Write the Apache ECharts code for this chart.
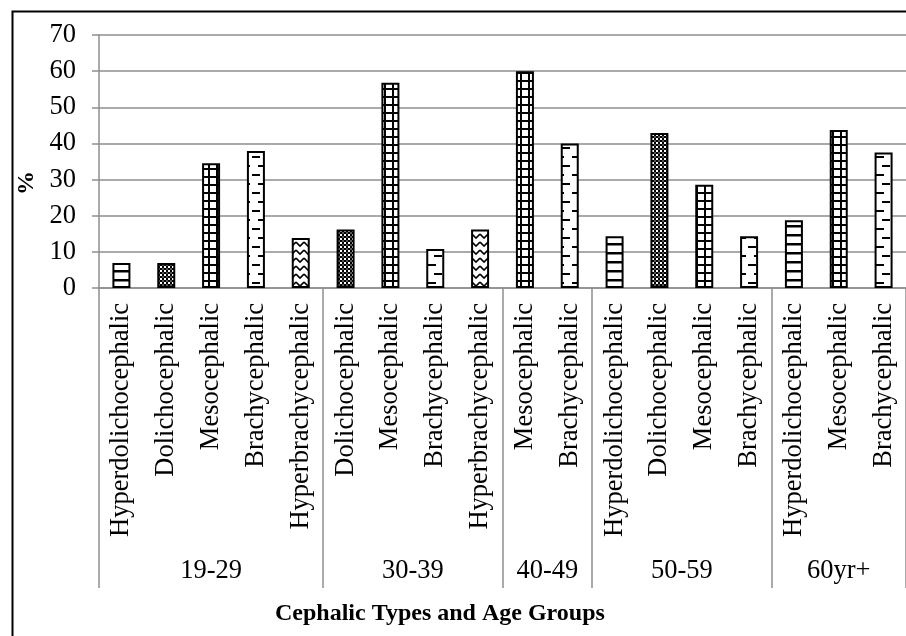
<!DOCTYPE html>
<html>
<head>
<meta charset="utf-8">
<script src="https://cdn.jsdelivr.net/npm/echarts@6/dist/echarts.min.js"></script>
<style>
html,body{margin:0;padding:0;background:#fff;}
#chart{width:906px;height:636px;}
</style>
</head>
<body>
<div id="chart"></div>
<script>
// ---- data ----
const cephalicTypes = [
  'Hyperdolichocephalic','Dolichocephalic','Mesocephalic','Brachycephalic','Hyperbrachycephalic',
  'Dolichocephalic','Mesocephalic','Brachycephalic','Hyperbrachycephalic',
  'Mesocephalic','Brachycephalic',
  'Hyperdolichocephalic','Dolichocephalic','Mesocephalic','Brachycephalic',
  'Hyperdolichocephalic','Mesocephalic','Brachycephalic'
];
const percentValues = [
  6.9, 6.9, 34.5, 37.9, 13.8,
  16.2, 56.8, 10.8, 16.2,
  60.0, 40.0,
  14.3, 42.9, 28.6, 14.3,
  18.75, 43.75, 37.5
];
const ageGroups = ['19-29','30-39','40-49','50-59','60yr+'];
const ageGroupSizes = [5, 4, 2, 4, 3];
const yTicks = [0,10,20,30,40,50,60,70];

// ---- patterns ----
function tile(w, h, draw) {
  const c = document.createElement('canvas');
  c.width = w; c.height = h;
  const g = c.getContext('2d');
  g.fillStyle = '#fff'; g.fillRect(0, 0, w, h);
  g.fillStyle = '#000'; g.strokeStyle = '#000';
  draw(g);
  return { image: c, repeat: 'repeat' };
}
const patterns = {
  Hyperdolichocephalic: tile(9, 9, g => { g.fillRect(0, 0, 9, 2.5); }),
  Dolichocephalic: tile(4, 4, g => { g.fillRect(0, 0, 2, 2); g.fillRect(2, 2, 2, 2); g.fillStyle='#555'; g.fillRect(2,0,2,2); g.fillStyle='#fff'; }),
  Mesocephalic: tile(8, 8, g => { g.fillRect(0, 0, 8, 2); g.fillRect(0, 0, 2, 8); }),
  Brachycephalic: tile(16, 18, g => { g.fillRect(2, 3, 8, 2); g.fillRect(12, 12, 8, 2); g.fillRect(-4, 12, 8, 2); }),
  Hyperbrachycephalic: tile(8, 8, g => {
    g.lineWidth = 1.6;
    g.beginPath(); g.moveTo(0, 2); g.lineTo(4, 6); g.lineTo(8, 2); g.stroke();
  })
};

// group helpers
const groupBounds = [0];
ageGroupSizes.forEach(s => groupBounds.push(groupBounds[groupBounds.length - 1] + s));
const groupCenters = ageGroupSizes.map((s, i) => groupBounds[i] + s / 2);

const font = '"Liberation Serif","Times New Roman",serif';
const gray = '#8e8e8e';

const chart = echarts.init(document.getElementById('chart'), null, { renderer: 'canvas' });
chart.setOption({
  animation: false,
  backgroundColor: '#fff',
  title: {
    text: 'Cephalic Types and Age Groups',
    left: 270, top: 597,
    textStyle: { fontFamily: font, fontWeight: 'bold', fontSize: 24, color: '#000' }
  },
  graphic: [
    { type: 'rect', left: 10, top: 9, shape: { width: 920, height: 660 },
      style: { fill: 'none', stroke: '#000', lineWidth: 2 }, silent: true },
    { type: 'text', x: 27, y: 183, rotation: Math.PI / 2,
      style: { text: '%', font: 'bold 24px ' + font, fill: '#000', align: 'center', verticalAlign: 'middle' } }
  ],
  grid: { left: 99, top: 35, width: 808, height: 253, containLabel: false },
  xAxis: [
    {
      type: 'category', data: cephalicTypes, position: 'bottom',
      axisLine: { show: true, lineStyle: { color: gray, width: 1.5 } },
      axisTick: { show: false },
      axisLabel: { rotate: 90, interval: 0, margin: 15, fontFamily: font, fontSize: 26.5, color: '#000' },
      splitLine: { show: false }
    },
    {
      type: 'value', position: 'bottom', min: 0, max: groupBounds[groupBounds.length - 1],
      axisLine: { show: false },
      axisTick: { show: true, length: 300, inside: false, customValues: groupBounds, lineStyle: { color: gray, width: 1.5 } },
      axisLabel: { show: true, customValues: groupCenters, margin: 270, fontFamily: font, fontSize: 26.5, color: '#000',
        formatter: v => ageGroups[groupCenters.indexOf(v)] || '' },
      splitLine: { show: false }
    }
  ],
  yAxis: {
    type: 'value', min: 0, max: 70, interval: 10,
    axisLine: { show: true, lineStyle: { color: gray, width: 1.5 } },
    axisTick: { show: true, length: 7, inside: false, lineStyle: { color: gray, width: 1.5 } },
    axisLabel: { margin: 23, fontFamily: font, fontSize: 26.5, color: '#000',
      formatter: v => yTicks.includes(v) ? String(v) : '' },
    splitLine: { show: true, lineStyle: { color: gray, width: 1.5 } }
  },
  series: [{
    type: 'bar', xAxisIndex: 0, yAxisIndex: 0, barWidth: 18,
    data: percentValues.map((v, i) => ({
      value: v,
      itemStyle: { color: patterns[cephalicTypes[i]], borderColor: '#000', borderWidth: 2 }
    }))
  }]
});
</script>
</body>
</html>
